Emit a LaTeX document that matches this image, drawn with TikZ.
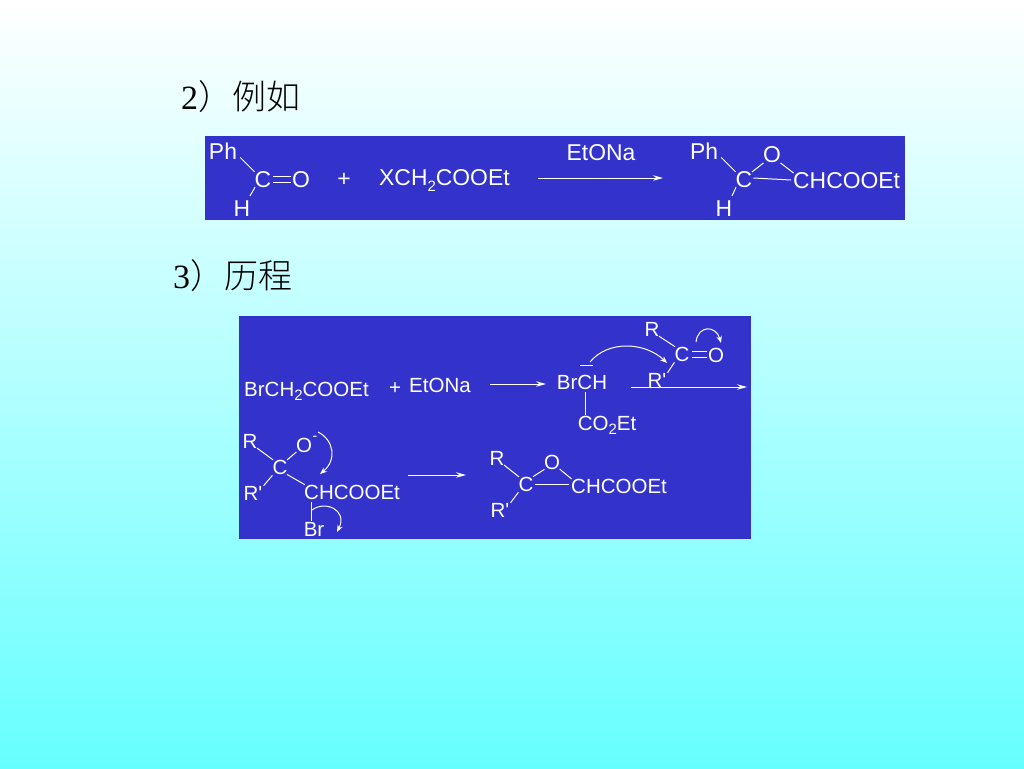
\documentclass[tikz,border=0pt]{standalone}
\usepackage{fontspec}
\newfontfamily\chemfont{Liberation Sans}
\newfontfamily\serifnum{Liberation Serif}
\newfontfamily\cjk[UprightFont={* Light}]{Noto Sans CJK SC}
\usetikzlibrary{arrows.meta}
\definecolor{panelblue}{HTML}{3333CC}
\definecolor{bgcyan}{HTML}{66FFFF}
\newcommand{\subtwo}{\raisebox{-0.22em}{\fontsize{15}{15}\selectfont 2}}
\tikzset{
  chemA/.style={text=white,inner sep=1pt,text depth=0pt,font=\chemfont\fontsize{22.9}{24}\selectfont},
  chemB/.style={text=white,inner sep=1pt,text depth=0pt,font=\chemfont\fontsize{20.5}{22}\selectfont},
  plainbond/.style={draw=white,line width=1pt},
  bond/.style={plainbond,shorten <=-2pt,shorten >=-2pt},
  rxn/.style={draw=white,line width=1pt,-{Stealth[length=10pt,width=5.5pt]}},
  curl/.style={draw=white,line width=1pt,-{Stealth[length=7pt,width=5.5pt]}},
  panel/.style={fill=panelblue,draw=none},
  head/.style={text=black,inner sep=0pt,anchor=west,font=\fontsize{34}{36}\selectfont}
}
\begin{document}
\begin{tikzpicture}[x=1pt,y=-1pt]
\useasboundingbox (0,0) rectangle (1024,768);
\shade[top color=white,bottom color=bgcyan] (0,0) rectangle (1024,768);
\node[head] (h2) at (181,96.5) {{\serifnum 2}{\cjk ）例如}};
\node[head] (h3) at (173,275.5) {{\serifnum 3}{\cjk ）历程}};
\fill[panel] (205,136) rectangle (905,220);
\fill[panel] (239,316) rectangle (751,539);
% top reaction
\node[chemA] (aph) at (223,151) {Ph};
\node[chemA] (ac) at (263,180) {C};
\node[chemA] (ao) at (301,180) {O};
\node[chemA] (ah) at (242,209) {H};
\node[chemA] (aplus) at (344,180) {+};
\node[chemA,anchor=west] (ax) at (378,178) {XCH\subtwo COOEt};
\node[chemA] (aet) at (601,153) {EtONa};
\coordinate (ar1) at (538,178);
\coordinate (ar2) at (663,178);
\draw[rxn] (ar1) -- (ar2);
\draw[plainbond] ([xshift=2pt,yshift=3pt]aph.south east) -- ([xshift=1pt,yshift=-1pt]ac.north west);
\draw[plainbond] ([xshift=1pt]ac.east |- 0,176.5) -- (ao.west |- 0,176.5);
\draw[plainbond] ([xshift=1pt]ac.east |- 0,182.5) -- (ao.west |- 0,182.5);
\draw[plainbond] ([xshift=1.5pt,yshift=2pt]ac.south west) -- ([xshift=-1.5pt,yshift=4pt]ah.north east);
\node[chemA] (bph) at (704,151) {Ph};
\node[chemA] (bo) at (772,155) {O};
\node[chemA] (bc) at (744,180) {C};
\node[chemA] (bh) at (724,209) {H};
\node[chemA,anchor=west] (bch) at (792,181) {CHCOOEt};
\draw[plainbond] ([xshift=2pt,yshift=3pt]bph.south east) -- ([xshift=1pt,yshift=-1pt]bc.north west);
\draw[bond] (bc.north east) -- (bo.south west);
\draw[bond] (bo.south east) -- (bch.north west);
\draw[plainbond] ([yshift=2pt]bc.east) -- ([xshift=-1pt,yshift=1pt]bch.west);
\draw[plainbond] ([xshift=1.5pt,yshift=2pt]bc.south west) -- ([xshift=-1.5pt,yshift=4pt]bh.north east);
% mechanism line 1
\node[chemB,anchor=west] (cbr) at (243,389) {BrCH\subtwo COOEt};
\node[chemB] (cplus) at (395,389) {+};
\node[chemB] (cet) at (440,385) {EtONa};
\coordinate (cr1) at (490,384);
\coordinate (cr2) at (546,384);
\draw[rxn] (cr1) -- (cr2);
\node[chemB] (dbr) at (582,382) {BrCH};
\node[chemB] (dco) at (607,423) {CO\subtwo Et};
\coordinate (dbar1) at (580,365);
\coordinate (dbar2) at (593,365);
\draw[draw=white,line width=0.8pt] (dbar1) -- (dbar2);
\coordinate (dv) at (585,392);
\draw[plainbond] (dv) -- (dv |- dco.north);
\node[chemB] (er) at (652,329) {R};
\node[chemB] (ec) at (682,354) {C};
\node[chemB] (eo) at (716,355) {O};
\node[chemB] (erp) at (657,380) {R'};
\draw[bond] (er.south east) -- (ec.north west);
\draw[plainbond] ([xshift=1pt]ec.east |- 0,351.5) -- (eo.west |- 0,351.5);
\draw[plainbond] ([xshift=1pt]ec.east |- 0,357.5) -- (eo.west |- 0,357.5);
\draw[plainbond] ([xshift=1pt]ec.south west) -- ([yshift=-1pt]erp.north east);
\coordinate (f1) at (590,362);
\coordinate (f2) at (667,363);
\draw[curl] (f1) .. controls (608,340) and (645,342) .. (f2);
\coordinate (g1) at (696,342);
\coordinate (g2) at (721,343);
\draw[curl] (g1) .. controls (698,325) and (716,325) .. (g2);
\coordinate (fr1) at (631,387);
\coordinate (fr2) at (747,387);
\draw[rxn] (fr1) -- (fr2);
% mechanism line 2
\node[chemB] (hr) at (250,441) {R};
\node[chemB] (hc) at (280,467) {C};
\node[chemB] (ho) at (304,445) {O};
\node[text=white,inner sep=0pt,font=\chemfont\fontsize{14}{14}\selectfont] (hminus) at (315,438) {-};
\node[chemB] (hrp) at (253,493) {R'};
\node[chemB,anchor=west] (hch) at (303,492) {CHCOOEt};
\node[chemB] (hb) at (314,529) {Br};
\draw[bond] (hr.south east) -- (hc.north west);
\draw[bond] (hc.north east) -- (ho.south west);
\draw[plainbond] ([xshift=1pt]hc.south west) -- ([yshift=-1pt]hrp.north east);
\draw[bond] (hc.south east) -- (hch.north west);
\coordinate (hv) at (311,502);
\draw[plainbond] (hv) -- (hv |- hb.north);
\coordinate (k1) at (318,432);
\coordinate (k2) at (320,474);
\draw[curl] (k1) .. controls (334,440) and (337,460) .. (k2);
\coordinate (m1) at (312,510);
\coordinate (m2) at (337,532);
\draw[curl] (m1) .. controls (325,500) and (348,510) .. (m2);
\coordinate (hr1) at (408,475);
\coordinate (hr2) at (466,475);
\draw[rxn] (hr1) -- (hr2);
\node[chemB] (nr) at (497,458) {R};
\node[chemB] (no) at (552,462) {O};
\node[chemB] (nc) at (526,484) {C};
\node[chemB,anchor=west] (nch) at (570,486) {CHCOOEt};
\node[chemB] (nrp) at (500,510) {R'};
\draw[bond] (nr.south east) -- (nc.north west);
\draw[bond] (nc.north east) -- (no.south west);
\draw[bond] (no.south east) -- (nch.north west);
\draw[plainbond] (nc.east) -- ([xshift=-1pt,yshift=2pt]nch.west);
\draw[plainbond] ([xshift=1pt]nc.south west) -- ([yshift=-1pt]nrp.north east);
\end{tikzpicture}
\end{document}
